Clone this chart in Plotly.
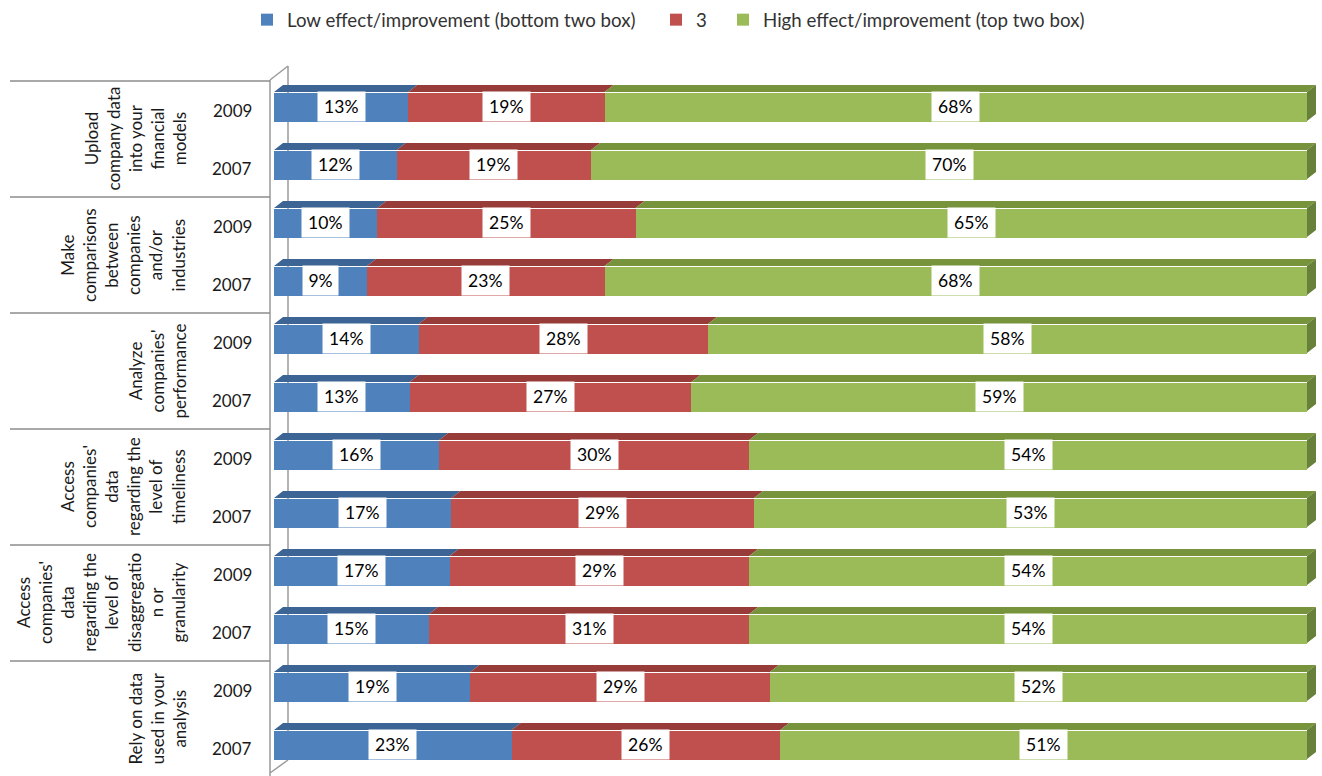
import plotly.graph_objects as go

# ---- data -------------------------------------------------------------
categories = [
    "Upload<br>company data<br>into your<br>financial<br>models",
    "Make<br>comparisons<br>between<br>companies<br>and/or<br>industries",
    "Analyze<br>companies'<br>performance",
    "Access<br>companies'<br>data<br>regarding the<br>level of<br>timeliness",
    "Access<br>companies'<br>data<br>regarding the<br>level of<br>disaggregatio<br>n or<br>granularity",
    "Rely on data<br>used in your<br>analysis",
]
years = ["2009", "2007"]

low_2009 = [13, 10, 14, 16, 17, 19]
low_2007 = [12, 9, 13, 17, 15, 23]
mid_2009 = [19, 25, 28, 30, 29, 29]
mid_2007 = [19, 23, 27, 29, 31, 26]
high_2009 = [68, 65, 58, 54, 54, 52]
high_2007 = [70, 68, 59, 53, 54, 51]

series_names = [
    "Low effect/improvement (bottom two box)",
    "3",
    "High effect/improvement (top two box)",
]

# ---- styling ----------------------------------------------------------
W, H = 1322, 776
FONT = "Lato, 'Open Sans', sans-serif"
FRONT = ["#4F81BD", "#C0504D", "#9BBB59"]
TOP = ["#3C6595", "#983C3A", "#77933C"]
SIDE = "#67813A"
WALL = "#9A9A9A"
GRID = "#8C8C8C"
LEGEND_WIDTHS = [364, 22, 330]       # text slot per legend entry (px)

X0_PX, X100_PX = 274, 1307          # bar start / 100 % position
PX_PER_UNIT = (X100_PX - X0_PX) / 100.0
X_PAD = 1.3                          # room for the side faces
ROW_PX = 58                          # row pitch
TOP_PX, BOT_PX = 77.5, 773.5         # plot area vertical extent
BAR_W = 0.5
DEPTH_X, DEPTH_Y = 9, 7              # 3-D extrusion in pixels

# ---- rows (top to bottom) ---------------------------------------------
rows_low, rows_mid, rows_high, row_year = [], [], [], []
for i in range(len(categories)):
    rows_low += [low_2009[i], low_2007[i]]
    rows_mid += [mid_2009[i], mid_2007[i]]
    rows_high += [high_2009[i], high_2007[i]]
    row_year += years
n_rows = len(rows_low)
row_pos = list(range(n_rows))

fig = go.Figure()
for name, vals, col, lw in zip(series_names, [rows_low, rows_mid, rows_high],
                               FRONT, LEGEND_WIDTHS):
    fig.add_trace(go.Bar(
        x=vals, y=row_pos, orientation="h", name=name, width=BAR_W,
        marker=dict(color=col, line=dict(width=0)), hoverinfo="skip",
        legendwidth=lw,
    ))

# ---- 3-D faces (top of every segment, right side of every bar) ---------
dx = DEPTH_X / PX_PER_UNIT
dy = DEPTH_Y / ROW_PX
top_paths = [([], []) for _ in range(3)]
side_x, side_y = [], []
seg_centers = []
for r in range(n_rows):
    vals = [rows_low[r], rows_mid[r], rows_high[r]]
    total = float(sum(vals))
    start = 0.0
    y_front = r - BAR_W / 2
    y_back = y_front - dy
    for s, v in enumerate(vals):
        end = start + v / total * 100.0
        px, py = top_paths[s]
        px += [start, end, end + dx, start + dx, start, None]
        py += [y_front, y_front, y_back, y_back, y_front, None]
        seg_centers.append((r, (start + end) / 2.0, v))
        start = end
    side_x += [start, start + dx, start + dx, start, start, None]
    side_y += [y_front, y_back, y_back + BAR_W, r + BAR_W / 2, y_front, None]

for s in range(3):
    fig.add_trace(go.Scatter(
        x=top_paths[s][0], y=top_paths[s][1], mode="lines", fill="toself",
        fillcolor=TOP[s], line=dict(width=0, color=TOP[s]),
        hoverinfo="skip", showlegend=False,
    ))
fig.add_trace(go.Scatter(
    x=side_x, y=side_y, mode="lines", fill="toself", fillcolor=SIDE,
    line=dict(width=0, color=SIDE), hoverinfo="skip", showlegend=False,
))

annotations = []
# value labels in white boxes
for r, xc, v in seg_centers:
    txt = f"{v}%"
    annotations.append(dict(
        x=xc, y=r, xref="x", yref="y", text=txt, showarrow=False,
        bgcolor="white", width=12 + 11.5 * len(txt), height=29, borderpad=0,
        font=dict(family=FONT, size=17.5, color="#000000"),
    ))
# year labels
for r in row_pos:
    annotations.append(dict(
        x=232 / W, y=r, xref="paper", yref="y", text=row_year[r],
        showarrow=False, yshift=-4, xanchor="center",
        font=dict(family=FONT, size=17, color="#1A1A1A"),
    ))
# category labels (rotated)
GROUP_TOP = 81
for k, cat in enumerate(categories):
    yc = GROUP_TOP + ROW_PX * (2 * k + 1)
    annotations.append(dict(
        x=191 / W, y=1 - yc / H, xref="paper", yref="paper", text=cat,
        showarrow=False, textangle=-90, xanchor="right", yanchor="middle",
        align="center", font=dict(family=FONT, size=17, color="#1A1A1A"),
    ))

# ---- table frame and chart walls ---------------------------------------
shapes = []
for k in range(len(categories)):
    yb = GROUP_TOP + 2 * ROW_PX * k
    shapes.append(dict(type="line", xref="paper", yref="paper",
                       x0=10 / W, x1=270 / W, y0=1 - yb / H, y1=1 - yb / H,
                       line=dict(color=GRID, width=1.5), layer="above"))
wall_lines = [
    ((270, 80), (270, 776)),
    ((270, 80), (288, 66)),
    ((288, 66), (288, 760)),
    ((288, 760), (270, 773)),
]
for (xa, ya), (xb, yb) in wall_lines:
    shapes.append(dict(type="line", xref="paper", yref="paper",
                       x0=xa / W, y0=1 - ya / H, x1=xb / W, y1=1 - yb / H,
                       line=dict(color=WALL, width=1.5), layer="below"))

x_end_px = X0_PX + (100 + X_PAD) * PX_PER_UNIT
fig.update_layout(
    width=W, height=H,
    margin=dict(l=0, r=0, t=0, b=0),
    paper_bgcolor="white", plot_bgcolor="rgba(0,0,0,0)",
    barmode="stack", barnorm="percent", bargap=0,
    font=dict(family=FONT, size=16, color="#333333"),
    xaxis=dict(range=[0, 100 + X_PAD], domain=[X0_PX / W, x_end_px / W],
               showgrid=False, zeroline=False, showticklabels=False,
               showline=False, fixedrange=True),
    yaxis=dict(range=[n_rows - 0.5, -0.5], domain=[1 - BOT_PX / H, 1 - TOP_PX / H],
               showgrid=False, zeroline=False, showticklabels=False,
               showline=False, fixedrange=True),
    legend=dict(orientation="h", x=247 / W, xanchor="left", y=1 - 20 / H,
                yanchor="middle", itemwidth=30, traceorder="normal",
                entrywidthmode="pixels",
                font=dict(family=FONT, size=18.7, color="#333333"),
                bgcolor="rgba(0,0,0,0)"),
    annotations=annotations,
    shapes=shapes,
    showlegend=True,
)

fig.write_html("out.html")
